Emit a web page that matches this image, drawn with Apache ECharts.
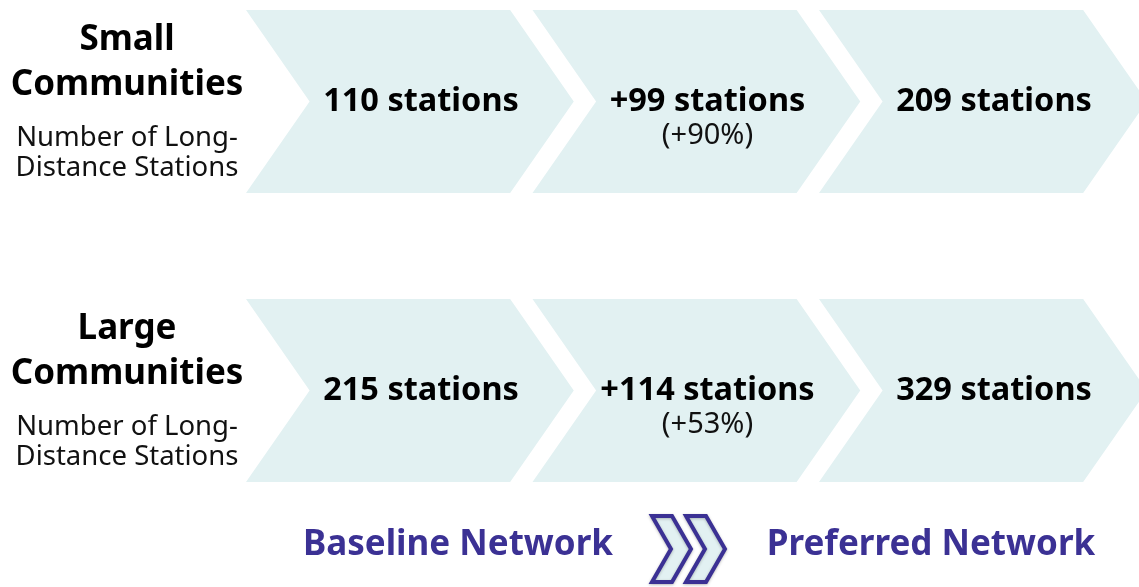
<!DOCTYPE html>
<html>
<head>
<meta charset="utf-8">
<script src="https://cdn.jsdelivr.net/npm/echarts@6/dist/echarts.min.js"></script>
<style>
  html, body { margin: 0; padding: 0; background: #fff; }
  #flow { width: 1139px; height: 587px; }
</style>
</head>
<body>
<div id="flow"></div>
<script>
// row headers
const groups = ['Small', 'Large']
const subtitle = ['Number of Long-', 'Distance Stations']
// station counts
const baseline = [110, 215]
const added = [99, 114]
const addedPct = [90, 53]
const preferred = [209, 329]
const footLabels = ['Baseline Network', 'Preferred Network']

const fill = '#e2f1f2'
const navy = '#3b3194'
const font = '"Noto Sans", "Open Sans", sans-serif'

// one item per chevron: [column, row, main text, sub text]
const steps = []
groups.forEach((g, r) => {
  steps.push([0, r, baseline[r] + ' stations', ''])
  steps.push([1, r, '+' + added[r] + ' stations', '(+' + addedPct[r] + '%)'])
  steps.push([2, r, preferred[r] + ' stations', ''])
})

function renderChevron(params, api) {
  const p = api.coord([api.value(0), api.value(1)])
  const unit = api.size([1, 1])
  const sx = p[0]
  const cy = p[1]
  const w = unit[0] * 0.922
  const d = unit[0] * 0.222
  const h = unit[1] * 0.317
  const item = steps[params.dataIndex]
  const children = [{
    type: 'polygon',
    shape: { points: [[sx, cy - h], [sx + w, cy - h], [sx + w + d, cy], [sx + w, cy + h], [sx, cy + h], [sx + d, cy]] },
    style: { fill: fill }
  }, {
    type: 'text',
    style: {
      x: sx + 175, y: cy,
      text: item[2], fill: '#000', font: 'bold 32.5px ' + font,
      align: 'center', verticalAlign: 'middle'
    }
  }]
  if (item[3] !== '') {
    children.push({
      type: 'text',
      style: {
        x: sx + 175, y: cy + 34,
        text: item[3], fill: '#111', font: '29px ' + font,
        align: 'center', verticalAlign: 'middle'
      }
    })
  }
  return { type: 'group', children: children }
}

function renderHeader(params, api) {
  const p = api.coord([0, api.value(0)])
  const cx = 127
  const cy = p[1]
  const r = params.dataIndex
  const lines = [
    [groups[r], -61, 'bold 35px ', '#000'],
    ['Communities', -16, 'bold 35px ', '#000'],
    [subtitle[0], 37, '27.5px ', '#111'],
    [subtitle[1], 67, '27.5px ', '#111']
  ]
  return {
    type: 'group',
    children: lines.map(l => ({
      type: 'text',
      style: { x: cx, y: cy + l[1], text: l[0], font: l[2] + font, fill: l[3], align: 'center', verticalAlign: 'middle' }
    }))
  }
}

function chevronIcon(x0) {
  return {
    type: 'polygon',
    shape: { points: [[x0, 516], [x0 + 20, 516], [x0 + 39, 549], [x0 + 20, 582], [x0, 582], [x0 + 19, 549]] },
    style: { fill: fill, stroke: navy, lineWidth: 4, lineJoin: 'miter', shadowBlur: 3, shadowColor: 'rgba(0,0,0,0.25)', shadowOffsetY: 1 }
  }
}

const chart = echarts.init(document.getElementById('flow'))
const option = {
  animation: false,
  grid: { left: 246, top: 101.5, width: 859.5, height: 289 },
  xAxis: { type: 'value', min: 0, max: 3, show: false },
  yAxis: { type: 'value', min: 0, max: 1, inverse: true, show: false },
  series: [{
    type: 'custom',
    renderItem: renderChevron,
    data: steps.map(s => [s[0], s[1]]),
    clip: false
  }, {
    type: 'custom',
    renderItem: renderHeader,
    data: groups.map((g, r) => [r]),
    encode: { y: 0 },
    clip: false
  }],
  graphic: [
    chevronIcon(652),
    chevronIcon(686),
    {
      type: 'text',
      style: { x: 458, y: 545, text: footLabels[0], font: 'bold 35px ' + font, fill: navy, align: 'center', verticalAlign: 'middle' }
    },
    {
      type: 'text',
      style: { x: 931, y: 545, text: footLabels[1], font: 'bold 35px ' + font, fill: navy, align: 'center', verticalAlign: 'middle' }
    }
  ]
}
option && chart.setOption(option)
</script>
</body>
</html>
